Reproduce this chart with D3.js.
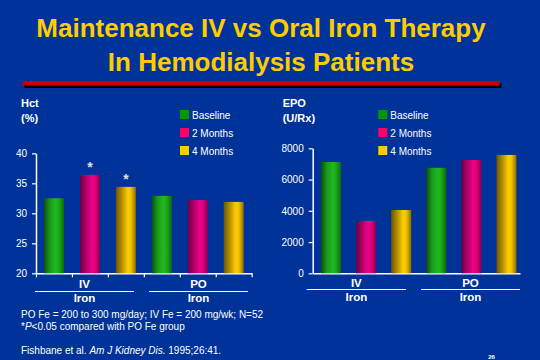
<!DOCTYPE html>
<html><head><meta charset="utf-8">
<script src="https://cdn.jsdelivr.net/npm/d3@7"></script>
<style>html,body{margin:0;padding:0;background:#003399;}svg{display:block;}</style>
</head><body>
<svg id="c" width="540" height="360"></svg>
<script>
// ---- data ----
const groups = ["IV", "PO"];
const periods = ["Baseline", "2 Months", "4 Months"];
const hctValues = [32.5, 36.4, 34.4, 32.9, 32.2, 31.9];   // IV: B,2M,4M ; PO: B,2M,4M
const hctSignificant = [false, true, true, false, false, false];
const hctTicks = [20, 25, 30, 35, 40];
const epoValues = [7120, 3350, 4050, 6750, 7250, 7575];
const epoTicks = [0, 2000, 4000, 6000, 8000];
const titleLines = ["Maintenance IV vs Oral Iron Therapy", "In Hemodialysis Patients"];
const footnotes = ["PO Fe = 200 to 300 mg/day; IV Fe = 200 mg/wk; N=52"];

const svg = d3.select("#c");
const FONT = "Liberation Sans, Arial, sans-serif";
svg.append("rect").attr("width",540).attr("height",360).attr("fill","#003399");

// gradients
const defs = svg.append("defs");
const grads = {
  Baseline: ["#0b4f0b", "#1a9c1a", "#22b822", "#1aa81a", "#0e6a0e"],
  "2 Months": ["#6a0040", "#b0006a", "#ee0088", "#e0007e", "#8a0050"],
  "4 Months": ["#6e5500", "#b38f00", "#ffcc00", "#f2c200", "#8a6e00"]
};
const solid = {Baseline:"#009900","2 Months":"#ff0066","4 Months":"#ffcc00"};
Object.entries(grads).forEach(([k,cols],i)=>{
  const g = defs.append("linearGradient").attr("id","g"+i).attr("x1","0").attr("x2","1").attr("y1","0").attr("y2","0");
  [0,0.3,0.6,0.75,1].forEach((o,j)=>g.append("stop").attr("offset",o).attr("stop-color",cols[j]));
});
const gradId = p => "url(#g"+periods.indexOf(p)+")";

// title
titleLines.forEach((t,i)=>{
  svg.append("text").attr("x",261).attr("y",37+i*33.5).attr("text-anchor","middle")
    .attr("font-family",FONT).attr("font-weight","bold").attr("font-size",26)
    .attr("fill","#ffcc00").text(t);
});
svg.append("rect").attr("x",24.5).attr("y",83.5).attr("width",477).attr("height",4.5).attr("fill","#000");
svg.append("rect").attr("x",22.5).attr("y",81).attr("width",477).attr("height",4.5).attr("fill","#cc0000");

const cats = [];
groups.forEach(g=>periods.forEach(p=>cats.push(g+"|"+p)));

function chart(opt){
  const g = svg.append("g");
  const y = d3.scaleLinear().domain(opt.domain).range([opt.y0, opt.y1]);
  const x = d3.scaleBand().domain(cats).range(opt.xr).paddingInner(opt.pad).paddingOuter(opt.pad/2);
  // y axis
  const ya = d3.axisLeft(y).tickValues(opt.ticks).tickFormat(d3.format("d")).tickSize(4).tickPadding(5).tickSizeOuter(0);
  const yg = g.append("g").attr("transform",`translate(${opt.ax},0)`).call(ya);
  yg.select(".domain").attr("stroke","#fff").attr("stroke-width",1.5);
  yg.selectAll(".tick line").attr("stroke","#fff").attr("stroke-width",1.2);
  yg.selectAll(".tick text").attr("fill","#fff").attr("font-family",FONT).attr("font-size",10);
  // x axis line
  const xa = d3.axisBottom(d3.scaleLinear().domain([0,6]).range([opt.ax, opt.axEnd]))
    .tickValues(opt.xticks ? [0,1,2,3,4,5,6] : []).tickSize(opt.xticks?4:0).tickSizeOuter(0).tickFormat("");
  const xg = g.append("g").attr("transform",`translate(0,${opt.y0})`).call(xa);
  xg.select(".domain").attr("stroke","#fff").attr("stroke-width",1.5);
  xg.selectAll(".tick line").attr("stroke","#fff").attr("stroke-width",1.2);
  // bars
  const data = opt.values.map((v,i)=>({c:cats[i], p:cats[i].split("|")[1], v, sig: opt.sig ? opt.sig[i] : false}));
  g.selectAll("rect.bar").data(data).enter().append("rect").attr("class","bar")
    .attr("x",d=>x(d.c)).attr("width",x.bandwidth())
    .attr("y",d=>y(d.v)).attr("height",d=>opt.y0 - y(d.v))
    .attr("fill",d=>gradId(d.p));
  g.selectAll("text.sig").data(data.filter(d=>d.sig)).enter().append("text").attr("class","sig")
    .attr("x",d=>x(d.c)+x.bandwidth()/2).attr("y",d=>y(d.v)-2.5)
    .attr("text-anchor","middle").attr("font-family",FONT).attr("font-weight","bold").attr("font-size",14)
    .attr("fill","#e0e0e0").text("*");
  // group labels
  groups.forEach((gr,i)=>{
    const xs = opt.ul[i];
    g.append("text").attr("x",(xs[0]+xs[1])/2).attr("y",opt.labY).attr("text-anchor","middle")
      .attr("font-family",FONT).attr("font-weight","bold").attr("font-size",11.5).attr("fill","#fff").text(gr);
    g.append("line").attr("x1",xs[0]).attr("x2",xs[1]).attr("y1",opt.ulY).attr("y2",opt.ulY)
      .attr("stroke","#fff").attr("stroke-width",1);
    g.append("text").attr("x",(xs[0]+xs[1])/2).attr("y",opt.labY+14).attr("text-anchor","middle")
      .attr("font-family",FONT).attr("font-weight","bold").attr("font-size",11.5).attr("fill","#fff").text("Iron");
  });
  // axis title
  opt.title.forEach((t,i)=>{
    g.append("text").attr("x",opt.tx).attr("y",107+i*15).attr("font-family",FONT).attr("font-weight","bold")
      .attr("font-size",11).attr("fill","#fff").text(t);
  });
  // legend
  periods.forEach((p,i)=>{
    g.append("rect").attr("x",opt.lx).attr("y",110+i*18).attr("width",9).attr("height",9).attr("fill",solid[p]);
    g.append("text").attr("x",opt.lx+12).attr("y",119+i*18).attr("font-family",FONT).attr("font-size",10)
      .attr("fill","#fff").text(p);
  });
}

chart({domain:[20,40], y0:273.3, y1:153.3, ticks:hctTicks, ax:36, axEnd:251.7, xr:[36,251.7], pad:0.444,
  values:hctValues, sig:hctSignificant, xticks:true, ul:[[35,134],[149,248]], ulY:291.5, labY:288,
  title:["Hct","(%)"], tx:21, lx:180});
chart({domain:[0,8000], y0:273.3, y1:148.3, ticks:epoTicks, ax:312.7, axEnd:520, xr:[313.5,524], pad:0.43,
  values:epoValues, xticks:false, ul:[[306.7,406],[421,520]], ulY:289.5, labY:287,
  title:["EPO","(U/Rx)"], tx:282.7, lx:378.3});

// footnotes
const fn = svg.append("g").attr("font-family",FONT).attr("font-size",10).attr("fill","#fff");
fn.append("text").attr("x",21).attr("y",317.5).text(footnotes[0]);
const f2 = fn.append("text").attr("x",21).attr("y",329.5);
f2.append("tspan").text("*");
f2.append("tspan").attr("font-style","italic").text("P");
f2.append("tspan").text("<0.05 compared with PO Fe group");
const f3 = fn.append("text").attr("x",21).attr("y",354);
f3.append("tspan").text("Fishbane et al. ");
f3.append("tspan").attr("font-style","italic").text("Am J Kidney Dis.");
f3.append("tspan").text(" 1995;26:41.");
svg.append("text").attr("x",491.5).attr("y",358.5).attr("text-anchor","middle").attr("font-family",FONT)
  .attr("font-weight","bold").attr("font-size",6).attr("fill","#fff").text("26");
</script>
</body></html>
